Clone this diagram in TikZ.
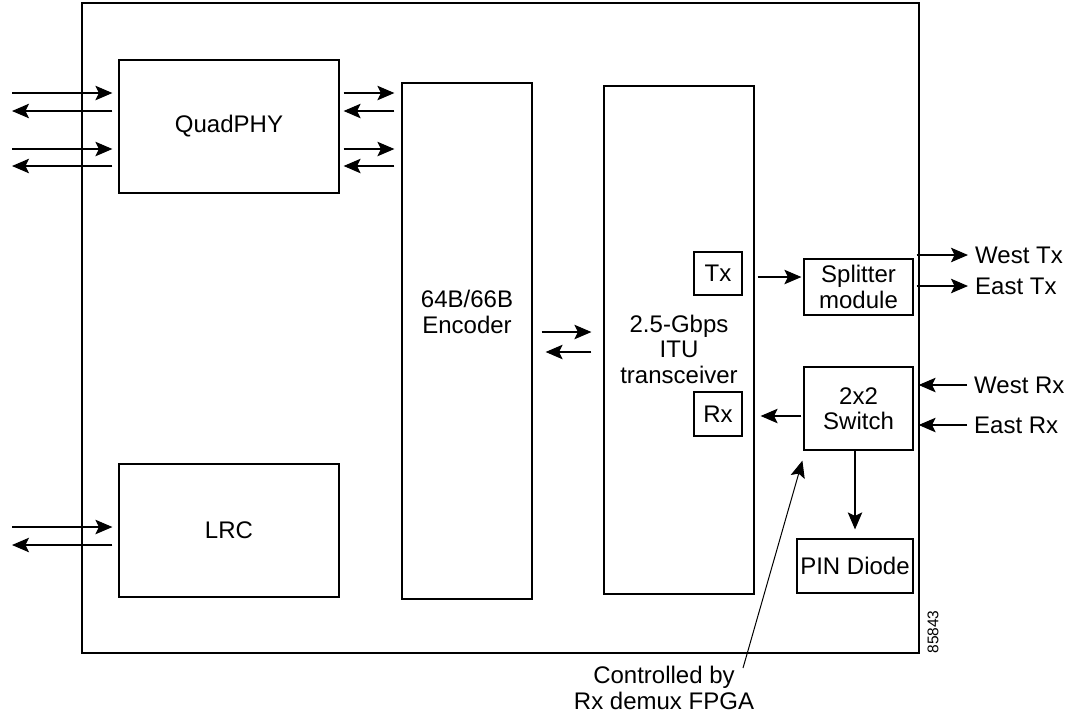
\documentclass[tikz,border=0pt]{standalone}
\usepackage{fontspec}
\setmainfont{Liberation Sans}
\usepackage{tikz}
\usetikzlibrary{positioning,arrows.meta,calc}
\newcommand{\blockfont}{\fontsize{24}{25.5}\selectfont}
\tikzset{
  sigarrow/.style={-{Stealth[length=17pt, width=14.5pt, inset=3.5pt]}, line width=1.2pt},
  blockbox/.style={draw, line width=1.2pt, inner sep=0pt, align=center, font=\blockfont},
  framebox/.style={draw, line width=1.3pt, inner sep=0pt},
  blocktext/.style={align=center, inner sep=0pt, font=\blockfont},
  sidelabel/.style={anchor=west, inner sep=7pt, font=\blockfont}
}

\begin{document}
\begin{tikzpicture}[x=1pt, y=-1pt]
  \useasboundingbox (0,0) rectangle (1073,713);
  % outer board
  \node[framebox, minimum width=837pt, minimum height=650pt] (frame) at (500.5,328) {};
  % blocks
  \node[blockbox, minimum width=220pt, minimum height=133pt] (quad) at (229,126.5) {QuadPHY};
  \node[blockbox, minimum width=220pt, minimum height=133pt] (lrc) at (229,530.5) {LRC};
  \node[blockbox, minimum width=130pt, minimum height=516pt] (enc) at (467,341) {};
  \node[blocktext] (enctext) at (467,312) {64B/66B\\Encoder};
  \node[blockbox, minimum width=150pt, minimum height=508pt] (trx) at (679,340) {};
  \node[blocktext] (trxtext) at (679,349) {2.5-Gbps\\ITU\\transceiver};
  \node[blockbox, minimum width=48pt, minimum height=43pt] (tx) at (718,273.5) {Tx};
  \node[blockbox, minimum width=48pt, minimum height=44pt] (rx) at (718,414) {Rx};
  \node[blockbox, minimum width=109pt, minimum height=56pt] (split) at (858.5,287) {Splitter\\module};
  \node[blockbox, minimum width=109pt, minimum height=83pt] (sw) at (858.5,408.5) {2x2\\Switch};
  \node[blockbox, minimum width=116pt, minimum height=54pt] (pin) at (855,566) {PIN Diode};
  % side labels
  \node[sidelabel] (wtx) at (968,255) {West Tx};
  \node[sidelabel] (etx) at (968,286) {East Tx};
  \node[sidelabel] (wrx) at (967,385) {West Rx};
  \node[sidelabel] (erx) at (967,425) {East Rx};
  \node[blocktext] (ctrl) at (664,688) {Controlled by\\Rx demux FPGA};
  \node[rotate=90, inner sep=0pt, font=\fontsize{15.5}{17}\selectfont] (figno) at (933,632) {85843};

  % rows of the arrows
  \coordinate (r1) at (12,93);
  \coordinate (r2) at (12,111);
  \coordinate (r3) at (12,149);
  \coordinate (r4) at (12,166);
  \coordinate (l1) at (12,527);
  \coordinate (l2) at (12,545);
  \coordinate (e1) at (0,332);
  \coordinate (e2) at (0,352);
  \coordinate (t1) at (0,277);
  \coordinate (s1) at (0,416);
  \coordinate (ctrlfrom) at (743,668);

  % QuadPHY and LRC ports
  \foreach \a/\b/\blk in {r1/r2/quad, r3/r4/quad, l1/l2/lrc}{
    \draw[sigarrow, shorten >=6pt] (\a) -- (\a -| \blk.west);
    \draw[sigarrow, shorten <=6pt] (\b -| \blk.west) -- (\b);
  }
  \foreach \a/\b in {r1/r2, r3/r4}{
    \draw[sigarrow, shorten <=4pt, shorten >=7pt] (\a -| quad.east) -- (\a -| enc.west);
    \draw[sigarrow, shorten <=7pt, shorten >=4pt] (\b -| enc.west) -- (\b -| quad.east);
  }
  % encoder to transceiver
  \draw[sigarrow, shorten <=9pt, shorten >=12pt] (e1 -| enc.east) -- (e1 -| trx.west);
  \draw[sigarrow, shorten <=12pt, shorten >=13pt] (e2 -| trx.west) -- (e2 -| enc.east);
  % optics side
  \draw[sigarrow, shorten <=3pt, shorten >=2pt] (t1 -| trx.east) -- (t1 -| split.west);
  \draw[sigarrow, shorten <=3pt] (split.east |- wtx) -- (wtx);
  \draw[sigarrow, shorten <=3pt] (split.east |- etx) -- (etx);
  \draw[sigarrow, shorten >=5pt] (wrx) -- (sw.east |- wrx);
  \draw[sigarrow, shorten >=5pt] (erx) -- (sw.east |- erx);
  \draw[sigarrow, shorten <=2pt, shorten >=6pt] (s1 -| sw.west) -- (s1 -| trx.east);
  \draw[sigarrow, shorten >=9pt] (sw.south -| pin.north) -- (pin.north);
  \draw[sigarrow, line width=1pt] (ctrlfrom) -- ([shift={(-1,10)}]sw.south west);
\end{tikzpicture}
\end{document}
